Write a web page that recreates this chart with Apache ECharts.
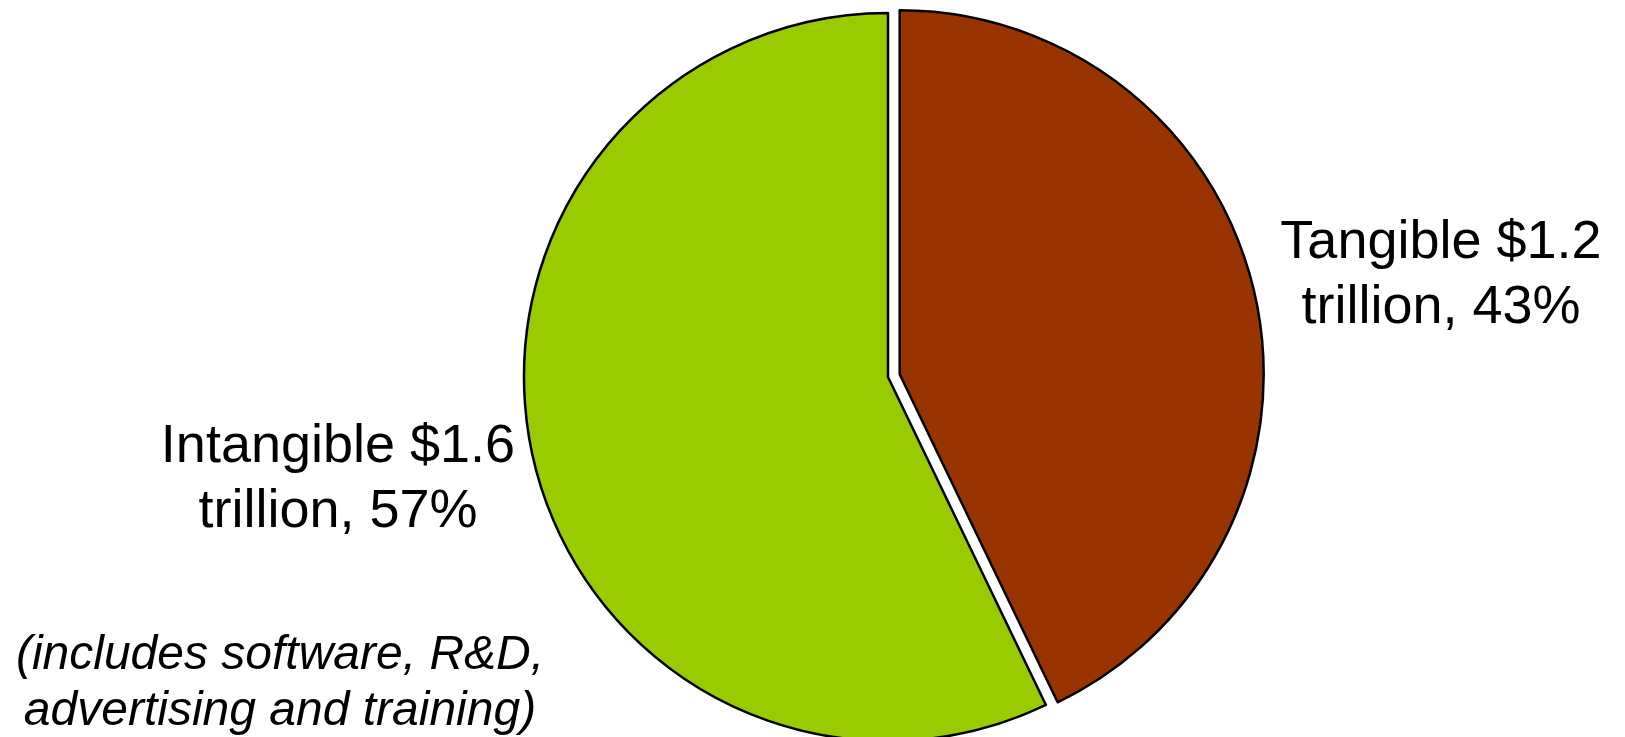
<!DOCTYPE html>
<html>
<head>
<meta charset="utf-8">
<title>Tangible vs intangible investment</title>
<script src="https://cdn.jsdelivr.net/npm/echarts@6.0.0/dist/echarts.min.js"></script>
<style>
  html, body { margin: 0; padding: 0; background: #fff; }
  #chart { width: 1625px; height: 737px; }
</style>
</head>
<body>
<div id="chart"></div>
<script>
// data
var names = ['Tangible', 'Intangible'];
var values = [1.2, 1.6]; // $ trillion
var colors = ['#993300', '#99CC00'];
var note = '(includes software, R&D,\nadvertising and training)';

// label anchor points (px), one per slice
var labelPos = [[1441, 276], [338, 480]];
var FONT = 'Liberation Sans, Arial, sans-serif';

var myChart = echarts.init(document.getElementById('chart'));

var total = values.reduce(function (a, b) { return a + b; }, 0);

// slice labels as free text (kept as real text)
var labels = names.map(function (n, i) {
  return {
    type: 'text',
    x: labelPos[i][0],
    y: labelPos[i][1],
    style: {
      text: n + ' $' + values[i].toFixed(1) + '\ntrillion, ' + Math.round(values[i] / total * 100) + '%',
      fontFamily: FONT,
      fontSize: 54,
      lineHeight: 65,
      fill: '#000',
      align: 'center',
      verticalAlign: 'middle'
    }
  };
});

// footnote under the intangible label
labels.push({
  type: 'text',
  x: 280,
  y: 684,
  style: {
    text: note,
    fontFamily: FONT,
    fontStyle: 'italic',
    fontSize: 48,
    lineHeight: 56,
    fill: '#000',
    align: 'center',
    verticalAlign: 'middle'
  }
});

var option = {
  backgroundColor: '#ffffff',
  animation: false,
  series: [
    {
      type: 'pie',
      center: [888, 377],
      radius: 364,
      startAngle: 90,
      clockwise: true,
      selectedMode: 'single',
      selectedOffset: 12,
      emphasis: { disabled: true },
      itemStyle: { borderColor: '#000', borderWidth: 2.5 },
      label: { show: false },
      labelLine: { show: false },
      data: names.map(function (n, i) {
        return { name: n, value: values[i], selected: i === 0, itemStyle: { color: colors[i] } };
      })
    }
  ],
  graphic: labels
};

myChart.setOption(option);
</script>
</body>
</html>
